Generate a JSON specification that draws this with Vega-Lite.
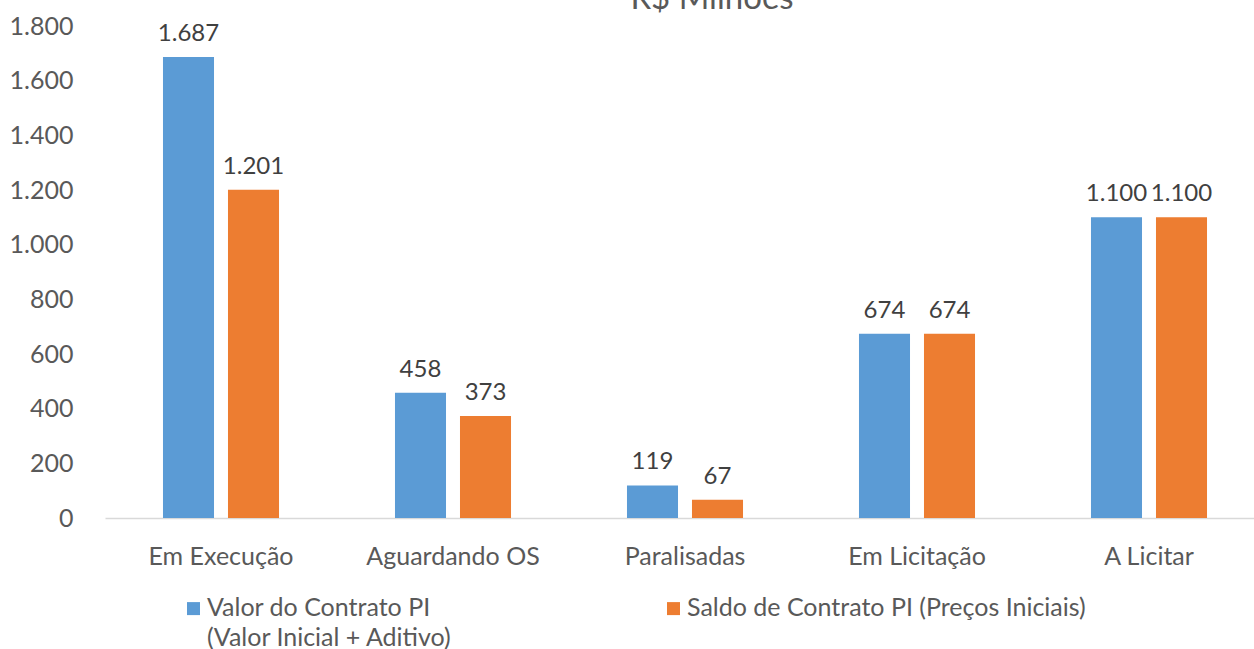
{
  "$schema": "https://vega.github.io/schema/vega-lite/v6.json",
  "width": 1160,
  "height": 492,
  "autosize": {"type": "none"},
  "padding": {"left": 105, "top": 26, "right": 0, "bottom": 131},
  "background": "white",
  "title": {"text": "R$ Milhões", "fontSize": 33, "font": "Lato", "fontWeight": "normal", "color": "#595959", "baseline": "alphabetic", "offset": -28, "dx": 27, "anchor": "middle"},
  "config": {
    "view": {"stroke": null},
    "font": "Lato",
    "style": {"guide-label": {"lineHeight": 30}},
    "locale": {"number": {"decimal": ",", "thousands": ".", "grouping": [3], "currency": ["R$", ""]}}
  },
  "data": {
    "values": [
      {"situacao": "Em Execução", "serie": "Valor do Contrato PI (Valor Inicial + Aditivo)", "valor": 1687},
      {"situacao": "Em Execução", "serie": "Saldo de Contrato PI (Preços Iniciais)", "valor": 1201},
      {"situacao": "Aguardando OS", "serie": "Valor do Contrato PI (Valor Inicial + Aditivo)", "valor": 458},
      {"situacao": "Aguardando OS", "serie": "Saldo de Contrato PI (Preços Iniciais)", "valor": 373},
      {"situacao": "Paralisadas", "serie": "Valor do Contrato PI (Valor Inicial + Aditivo)", "valor": 119},
      {"situacao": "Paralisadas", "serie": "Saldo de Contrato PI (Preços Iniciais)", "valor": 67},
      {"situacao": "Em Licitação", "serie": "Valor do Contrato PI (Valor Inicial + Aditivo)", "valor": 674},
      {"situacao": "Em Licitação", "serie": "Saldo de Contrato PI (Preços Iniciais)", "valor": 674},
      {"situacao": "A Licitar", "serie": "Valor do Contrato PI (Valor Inicial + Aditivo)", "valor": 1100},
      {"situacao": "A Licitar", "serie": "Saldo de Contrato PI (Preços Iniciais)", "valor": 1100}
    ]
  },
  "encoding": {
    "x": {
      "field": "situacao", "type": "nominal",
      "sort": ["Em Execução", "Aguardando OS", "Paralisadas", "Em Licitação", "A Licitar"],
      "scale": {"paddingInner": 0, "paddingOuter": 0},
      "axis": {"title": null, "labelAngle": 0, "labelFontSize": 25, "labelColor": "#595959", "labelPadding": 26, "ticks": false, "domainColor": "#D9D9D9", "domainWidth": 1.5, "grid": false, "labelFont": "Lato"}
    },
    "xOffset": {
      "field": "serie", "type": "nominal",
      "sort": ["Valor do Contrato PI (Valor Inicial + Aditivo)", "Saldo de Contrato PI (Preços Iniciais)"],
      "scale": {"paddingInner": 0.215, "paddingOuter": 0.892}
    },
    "y": {
      "field": "valor", "type": "quantitative",
      "scale": {"domain": [0, 1800]},
      "axis": {"title": null, "values": [0, 200, 400, 600, 800, 1000, 1200, 1400, 1600, 1800], "format": ",d", "domain": false, "ticks": false, "grid": false, "labelFontSize": 25, "labelColor": "#595959", "labelPadding": 32, "labelFont": "Lato"}
    }
  },
  "layer": [
    {
      "mark": {"type": "bar"},
      "encoding": {
        "color": {
          "field": "serie", "type": "nominal",
          "scale": {"domain": ["Valor do Contrato PI (Valor Inicial + Aditivo)", "Saldo de Contrato PI (Preços Iniciais)"], "range": ["#5B9BD5", "#ED7D31"]},
          "legend": {
            "title": null, "orient": "none", "legendX": 76, "legendY": 577,
            "direction": "horizontal", "columns": 2, "columnPadding": 209,
            "symbolType": "M-1,-2.1H1V-0.1H-1Z", "symbolSize": 169, "symbolStrokeWidth": 0,
            "labelFontSize": 25, "labelColor": "#595959", "labelFont": "Lato", "labelLimit": 600, "labelOffset": 1,
            "labelBaseline": "alphabetic",
            "labelExpr": "datum.label == 'Valor do Contrato PI (Valor Inicial + Aditivo)' ? ['Valor do Contrato PI', '(Valor Inicial + Aditivo)'] : [datum.label, ' ']"
          }
        }
      }
    },
    {
      "mark": {"type": "text", "dy": -16, "baseline": "alphabetic", "fontSize": 24, "color": "#404040", "font": "Lato"},
      "encoding": {"text": {"field": "valor", "type": "quantitative", "format": ","}}
    }
  ]
}
